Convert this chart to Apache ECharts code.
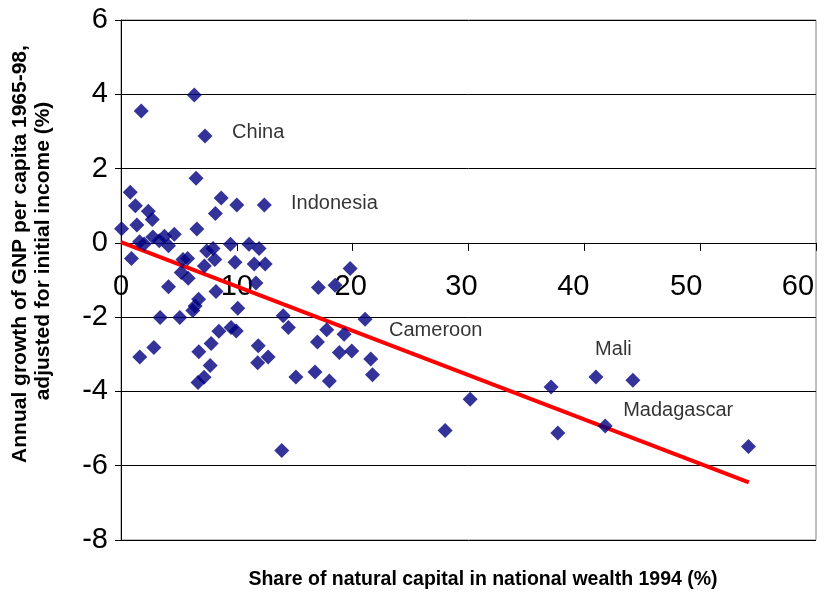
<!DOCTYPE html>
<html>
<head>
<meta charset="utf-8">
<script src="https://cdn.jsdelivr.net/npm/echarts@6/dist/echarts.min.js"></script>
<style>
html,body{margin:0;padding:0;background:#fff;}
#chart{width:835px;height:597px;}
</style>
</head>
<body>
<div id="chart"></div>
<script>
// Share of natural capital in national wealth 1994 (%)
const xVals = [
  6.33, 1.75, 7.25, 6.48, 0.80, 1.24, 2.36, 2.70, 1.37, 0.05, 8.65, 10.00, 12.37, 8.15, 6.55,
  1.60, 2.00, 2.75, 3.30, 3.75, 4.60, 4.10, 0.90,
  5.35, 5.75, 5.80, 5.20, 7.40, 7.95, 7.20, 8.10, 9.45, 9.84, 11.05, 11.92, 11.50, 12.45, 11.65,
  4.10, 8.20, 10.08, 6.70, 6.40, 6.20,
  3.38, 5.08, 8.45, 9.50, 9.95,
  1.62, 2.84, 6.72, 7.78, 7.70, 6.65, 7.17,
  11.85, 12.70, 11.80,
  14.00, 14.45, 15.10, 13.88,
  17.04, 18.48, 19.78, 17.76, 16.96, 19.26, 21.07, 18.85, 19.92, 21.56, 21.71, 16.75, 17.99,
  27.98, 30.14, 37.13, 37.71, 41.00, 44.19, 41.80, 54.17
];
// Annual growth of GNP per capita 1965-98, adjusted for initial income (%)
const yVals = [
  3.98, 3.55, 2.88, 1.74, 1.36, 1.00, 0.85, 0.63, 0.48, 0.38, 1.21, 1.02, 1.02, 0.79, 0.37,
  0.03, -0.03, 0.16, 0.06, 0.18, 0.23, -0.08, -0.42,
  -0.45, -0.42, -0.95, -0.80, -0.22, -0.15, -0.62, -0.45, -0.04, -0.52, -0.04, -0.15, -0.57, -0.57, -1.08,
  -1.18, -1.31, -1.76, -1.52, -1.70, -1.82,
  -2.01, -2.01, -2.38, -2.28, -2.37,
  -3.07, -2.82, -2.93, -2.71, -3.30, -3.76, -3.62,
  -2.77, -3.07, -3.23,
  -1.96, -2.28, -3.61, -5.59,
  -1.20, -1.14, -0.69, -2.34, -2.67, -2.46, -2.06, -2.95, -2.91, -3.13, -3.55, -3.48, -3.72,
  -5.05, -4.21, -3.88, -5.12, -3.61, -3.70, -4.93, -5.48
];
// fitted line end points
const trendX = [0, 54.2];
const trendY = [0.02, -6.45];
// country annotations (anchor = left / middle of text)
const noteNames = ['China', 'Indonesia', 'Cameroon', 'Mali', 'Madagascar'];
const noteX = [9.59, 14.68, 23.14, 40.93, 43.35];
const noteY = [2.97, 1.07, -2.35, -2.86, -4.51];
// axis ticks
const xTicks = {min: 0, max: 60, step: 10};
const yTicks = {min: -8, max: 6, step: 2};
const xTickLabels = ['0', '10', '20', '30', '40', '50', '60'];

const FONT = '"Liberation Sans", Arial, sans-serif';
const GRID = {left: 121, right: 19, top: 20, bottom: 57};
const chartH = 597;
const plotH = chartH - GRID.top - GRID.bottom;
// the x axis crosses the y axis at value 0
const zeroFromBottom = plotH * (0 - yTicks.min) / (yTicks.max - yTicks.min);
// the original's x labels drift slightly left of their ticks towards the right
const labelShift = [0, 0, 2, 7, 11, 14, 18];

const chart = echarts.init(document.getElementById('chart'), null, {renderer: 'canvas'});

const pts = xVals.map((x, i) => [x, yVals[i]]);
const trend = trendX.map((x, i) => [x, trendY[i]]);
const notes = noteNames.map((n, i) => ({name: n, value: [noteX[i], noteY[i]]}));

const richX = {};
xTickLabels.forEach((t, i) => {
  richX['l' + i] = {fontSize: 29, fontFamily: FONT, color: '#000', padding: [0, 2 * labelShift[i], 0, 0]};
});

chart.setOption({
  animation: false,
  backgroundColor: '#fff',
  grid: Object.assign({show: true, borderColor: '#808080', borderWidth: 1, backgroundColor: 'transparent'}, GRID),
  xAxis: {
    type: 'value', min: xTicks.min, max: xTicks.max, interval: xTicks.step,
    position: 'bottom', offset: -zeroFromBottom,
    axisLine: {show: true, onZero: false, lineStyle: {color: '#000', width: 1}},
    axisTick: {show: true, inside: false, length: 8, lineStyle: {color: '#000'}},
    axisLabel: {
      color: '#000', fontSize: 29, fontFamily: FONT, margin: 30,
      formatter: v => {
        const i = Math.round((v - xTicks.min) / xTicks.step);
        return '{l' + i + '|' + xTickLabels[i] + '}';
      },
      rich: richX
    },
    splitLine: {show: false}
  },
  yAxis: {
    type: 'value', min: yTicks.min, max: yTicks.max, interval: yTicks.step,
    axisLine: {show: true, onZero: false, lineStyle: {color: '#000', width: 1}},
    axisTick: {show: true, inside: false, length: 6, lineStyle: {color: '#000'}},
    axisLabel: {color: '#000', fontSize: 29, fontFamily: FONT, margin: 13},
    splitLine: {show: true, lineStyle: {color: '#000', width: 1}}
  },
  series: [
    {
      type: 'line', data: trend, symbol: 'none', z: 2,
      lineStyle: {color: '#ff0000', width: 4}
    },
    {
      type: 'scatter', data: pts, symbol: 'diamond', symbolSize: 15, z: 3,
      itemStyle: {color: '#000080'}
    },
    {
      type: 'scatter', data: notes, symbolSize: 0, z: 4,
      label: {show: true, position: 'right', distance: 0, formatter: '{b}', color: '#000', fontSize: 20, fontFamily: FONT}
    }
  ],
  graphic: [
    {
      type: 'text', x: 483, y: 580,
      style: {text: 'Share of natural capital in national wealth 1994 (%)', font: 'bold 19.5px ' + FONT, fill: '#000', textAlign: 'center', textVerticalAlign: 'middle'}
    },
    {
      type: 'text', x: 20, y: 254, rotation: Math.PI / 2,
      style: {text: 'Annual growth of GNP per capita 1965-98,', font: 'bold 21px ' + FONT, fill: '#000', textAlign: 'center', textVerticalAlign: 'middle'}
    },
    {
      type: 'text', x: 43, y: 251, rotation: Math.PI / 2,
      style: {text: 'adjusted for initial income (%)', font: 'bold 21px ' + FONT, fill: '#000', textAlign: 'center', textVerticalAlign: 'middle'}
    }
  ]
});
</script>
</body>
</html>
